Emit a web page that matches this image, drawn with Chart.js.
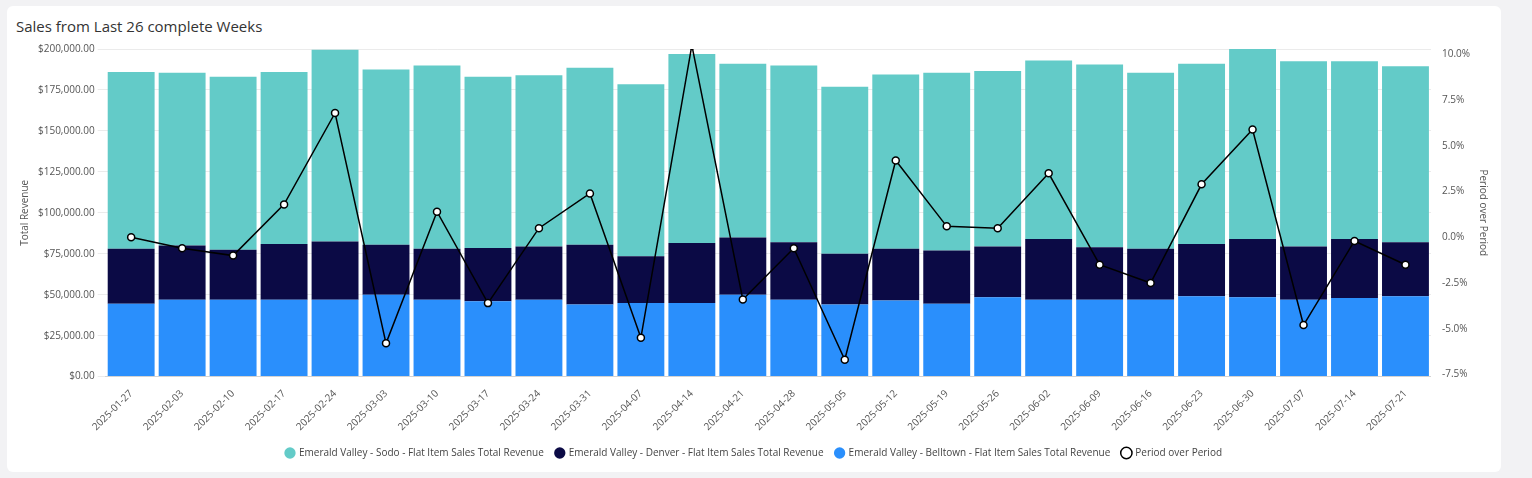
<!DOCTYPE html>
<html>
<head>
<meta charset="utf-8">
<script src="https://cdn.jsdelivr.net/npm/chart.js@4"></script>
<style>
  body { margin: 0; background: #f2f2f4; font-family: "Open Sans", sans-serif; }
  .card { position: absolute; left: 7px; top: 6px; width: 1494px; height: 466px; background: #fff; border-radius: 6px; }
  .title { position: absolute; left: 9px; top: 10px; font-size: 15px; color: #333; }
  .wrap { position: absolute; left: 0; top: 34px; width: 1494px; height: 428px; }
</style>
</head>
<body>
<div class="card">
  <div class="title">Sales from Last 26 complete Weeks</div>
  <div class="wrap"><canvas id="chart"></canvas></div>
</div>
<script>
const weeks = ['2025-01-27', '2025-02-03', '2025-02-10', '2025-02-17', '2025-02-24', '2025-03-03', '2025-03-10', '2025-03-17', '2025-03-24', '2025-03-31', '2025-04-07', '2025-04-14', '2025-04-21', '2025-04-28', '2025-05-05', '2025-05-12', '2025-05-19', '2025-05-26', '2025-06-02', '2025-06-09', '2025-06-16', '2025-06-23', '2025-06-30', '2025-07-07', '2025-07-14', '2025-07-21'];
const belltown = [44500, 47000, 47000, 47000, 47000, 50000, 47000, 46000, 47000, 44000, 45000, 45000, 50000, 47000, 44000, 46500, 44500, 48500, 47000, 47000, 47000, 49000, 48500, 47000, 48000, 49000];
const denver = [33500, 33000, 30500, 34000, 35500, 30500, 31000, 32500, 32500, 36500, 28500, 36500, 35000, 35000, 31000, 31500, 32500, 31000, 37000, 32000, 31000, 32000, 35500, 32500, 36000, 33000];
const sodo = [108000, 105500, 105500, 105000, 117000, 107000, 112000, 104500, 104500, 108000, 105000, 115500, 106000, 108000, 102000, 106500, 108500, 107000, 109000, 111500, 107500, 110000, 118000, 113000, 108500, 107500];
const periodOverPeriod = [0.0, -0.6, -1.0, 1.8, 6.8, -5.8, 1.4, -3.6, 0.5, 2.4, -5.5, 10.5, -3.4, -0.6, -6.7, 4.2, 0.6, 0.5, 3.5, -1.5, -2.5, 2.9, 5.9, -4.8, -0.2, -1.5];
const pctTicks = [-7.5, -5, -2.5, 0, 2.5, 5, 7.5, 10];

Chart.defaults.font.family = '"Open Sans", sans-serif';
Chart.defaults.color = '#555';

new Chart(document.getElementById('chart'), {
    type: 'bar',
    data: {
        labels: weeks,
        datasets: [
            {
                type: 'line',
                label: 'Period over Period',
                data: periodOverPeriod,
                yAxisID: 'y1',
                borderColor: '#000',
                borderWidth: 1.5,
                backgroundColor: '#fff',
                pointBorderColor: '#000',
                pointBackgroundColor: '#fff',
                pointRadius: 3.5,
                pointBorderWidth: 1.5,
                tension: 0,
                order: 0
            },
            { label: 'Emerald Valley - Belltown - Flat Item Sales Total Revenue', data: belltown, backgroundColor: '#2a8ffc', stack: 's', order: 1 },
            { label: 'Emerald Valley - Denver - Flat Item Sales Total Revenue', data: denver, backgroundColor: '#0b0a45', stack: 's', order: 1 },
            { label: 'Emerald Valley - Sodo - Flat Item Sales Total Revenue', data: sodo, backgroundColor: '#63cbc8', stack: 's', order: 1 }
        ]
    },
    options: {
        responsive: true,
        maintainAspectRatio: false,
        animation: false,
        layout: { padding: { left: 8, right: 8 } },
        datasets: { bar: { categoryPercentage: 1, barPercentage: 0.92 } },
        plugins: {
            tooltip: { enabled: false },
            legend: {
                position: 'bottom',
                reverse: true,
                labels: { usePointStyle: true, pointStyle: 'circle', boxWidth: 8, boxHeight: 8, font: { size: 10 }, color: '#444', padding: 12 }
            }
        },
        scales: {
            x: {
                stacked: true,
                grid: { display: false },
                ticks: { maxRotation: 45, minRotation: 45, font: { size: 10 } }
            },
            y: {
                stacked: true,
                min: 0,
                max: 200000,
                ticks: {
                    stepSize: 25000,
                    font: { size: 10 },
                    callback: v => '$' + v.toLocaleString('en-US', { minimumFractionDigits: 2 })
                },
                grid: { color: '#ebebeb' },
                border: { display: false },
                title: { display: true, text: 'Total Revenue', font: { size: 10 } }
            },
            y1: {
                position: 'right',
                min: -7.62,
                max: 10.3,
                afterBuildTicks: axis => { axis.ticks = pctTicks.map(v => ({ value: v })); },
                ticks: { font: { size: 10 }, callback: v => v.toFixed(1) + '%' },
                grid: { display: false },
                border: { display: false },
                title: { display: true, text: 'Period over Period', font: { size: 10 } }
            }
        }
    }
});
</script>
</body>
</html>
